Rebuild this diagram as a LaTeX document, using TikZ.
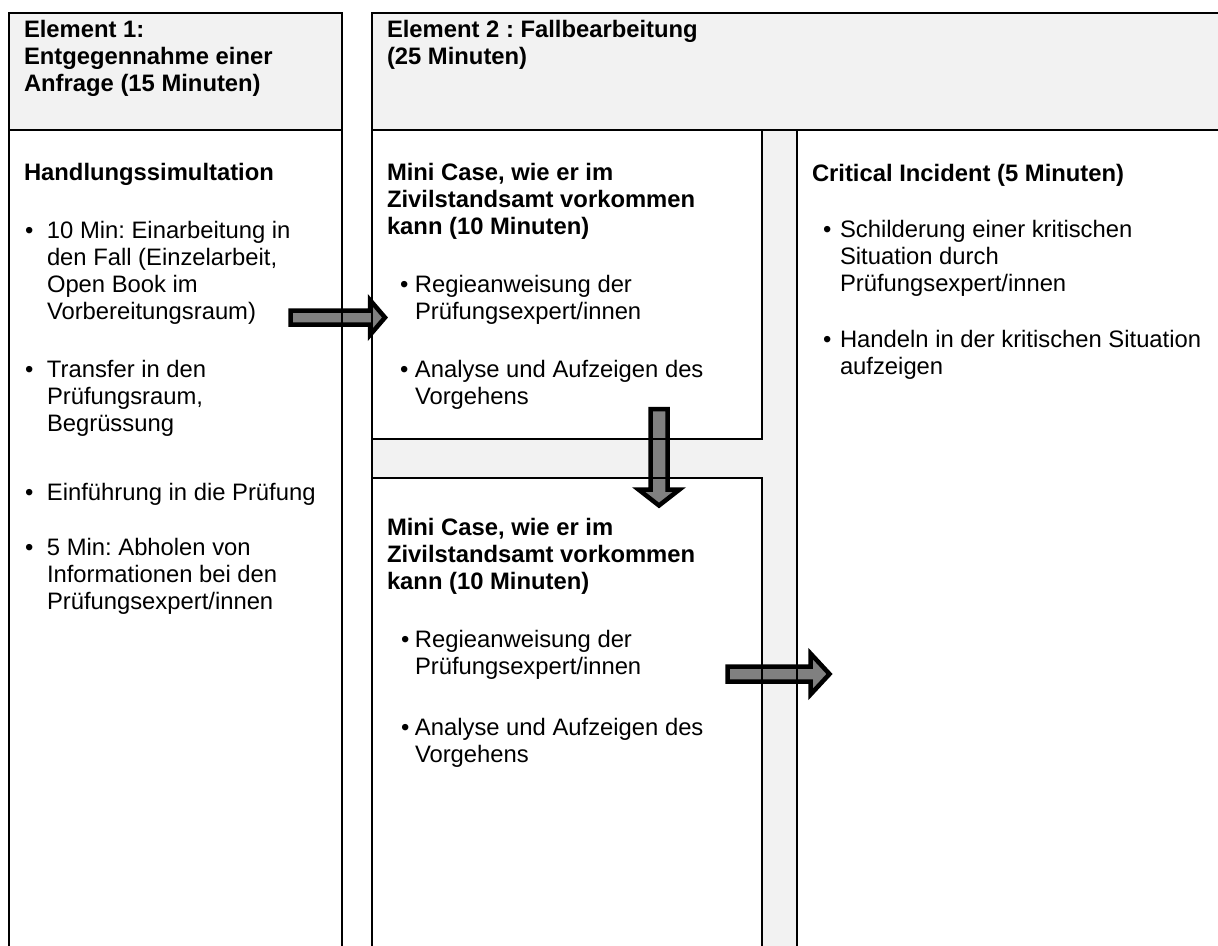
\documentclass[tikz,border=0pt]{standalone}
\usepackage{fontspec}
\setmainfont{Liberation Sans}
\frenchspacing
\definecolor{hdrgray}{HTML}{F2F2F2}
\definecolor{arrgray}{HTML}{808080}
\newcommand\mylines[1]{\begin{tabular}[t]{@{}l@{}}#1\end{tabular}}
\newcommand\mybul[2]{\makebox[#1][l]{\textbullet}\mylines{#2}}
\begin{document}
\begin{tikzpicture}[x=1pt,y=-1pt,
  fillbox/.style={anchor=north west, inner sep=0pt, outer sep=0pt, draw=none},
  border/.style={line width=1.8pt},
  barrow/.style={draw=black, fill=arrgray, line width=4.5pt, line join=miter},
  txt/.style={anchor=base west, inner sep=0pt, outer sep=0pt, font=\fontsize{23.8}{27.3}\selectfont},
]
\useasboundingbox (0,0) rectangle (1218,945);
\clip (0,0) rectangle (1218,945);
\fill[white] (0,0) rectangle (1218,945);
% fills
\node[fillbox, fill=hdrgray, minimum width=333pt, minimum height=117pt] (e1h) at (9,13) {};
\node[fillbox, fill=white, minimum width=333pt, minimum height=840pt] (e1b) at (9,130) {};
\node[fillbox, fill=hdrgray, minimum width=870pt, minimum height=950pt] (e2) at (372,13) {};
\node[fillbox, fill=white, minimum width=390pt, minimum height=309pt] (mc1) at (372,130) {};
\node[fillbox, fill=white, minimum width=390pt, minimum height=480pt] (mc2) at (372,478) {};
\node[fillbox, fill=white, minimum width=440pt, minimum height=830pt] (ci) at (797,130) {};
% block arrows
\draw[barrow] (290.5,310.5) -- (370,310.5) -- (370,300) -- (385,317.5) -- (370,335) -- (370,324.5) -- (290.5,324.5) -- cycle;
\draw[barrow] (650.5,409) -- (667.5,409) -- (667.5,489.5) -- (679.5,489.5) -- (659,505.5) -- (638.5,489.5) -- (650.5,489.5) -- cycle;
\draw[barrow] (727.5,666.5) -- (810.5,666.5) -- (810.5,653.5) -- (829.5,674) -- (810.5,694.5) -- (810.5,681.5) -- (727.5,681.5) -- cycle;
% borders
\draw[border] (e1b.south west) -- (e1h.north west) -- (e1h.north east) -- (e1b.south east);
\draw[border] (e1h.south west) -- (e1h.south east);
\draw[border] (e2.south west) -- (e2.north west) -- (e2.north east);
\draw[border] (mc1.north west) -- (ci.north east);
\draw[border] (mc1.north east) -- (mc1.south east) -- (mc1.south west);
\draw[border] (mc2.south east) -- (mc2.north east) -- (mc2.north west);
\draw[border] (ci.north west) -- (ci.south west);
% texts: element 1
\node[txt] (t1) at (24,37) {\bfseries\mylines{Element 1:\\Entgegennahme einer\\Anfrage (15 Minuten)}};
\node[txt] (t2) at (387,37) {\bfseries\mylines{Element 2 : Fallbearbeitung\\(25 Minuten)}};
\node[txt] (t3) at (24,180) {\bfseries Handlungssimultation};
\node[txt] (b1) at (25,238) {\mybul{22pt}{10 Min: Einarbeitung in\\den Fall (Einzelarbeit,\\Open Book im\\Vorbereitungsraum)}};
\node[txt] (b2) at (25,377) {\mybul{22pt}{Transfer in den\\Prüfungsraum,\\Begrüssung}};
\node[txt] (b3) at (25,500) {\mybul{22pt}{Einführung in die Prüfung}};
\node[txt] (b4) at (25,555) {\mybul{22pt}{5 Min: Abholen von\\Informationen bei den\\Prüfungsexpert/innen}};
% mini case 1
\node[txt] (m1) at (387,180) {\bfseries\mylines{Mini Case, wie er im\\Zivilstandsamt vorkommen\\kann (10 Minuten)}};
\node[txt] (m1a) at (400,292) {\mybul{15pt}{Regieanweisung der\\Prüfungsexpert/innen}};
\node[txt] (m1b) at (400,377) {\mybul{15pt}{Analyse und Aufzeigen des\\Vorgehens}};
% mini case 2
\node[txt] (m2) at (387,535) {\bfseries\mylines{Mini Case, wie er im\\Zivilstandsamt vorkommen\\kann (10 Minuten)}};
\node[txt] (m2a) at (401,647) {\mybul{14pt}{Regieanweisung der\\Prüfungsexpert/innen}};
\node[txt] (m2b) at (401,735) {\mybul{14pt}{Analyse und Aufzeigen des\\Vorgehens}};
% critical incident
\node[txt] (c1) at (812,181) {\bfseries Critical Incident (5 Minuten)};
\node[txt] (c1a) at (823,237) {\mybul{17pt}{Schilderung einer kritischen\\Situation durch\\Prüfungsexpert/innen}};
\node[txt] (c1b) at (823,347) {\mybul{17pt}{Handeln in der kritischen Situation\\aufzeigen}};
\end{tikzpicture}
\end{document}
